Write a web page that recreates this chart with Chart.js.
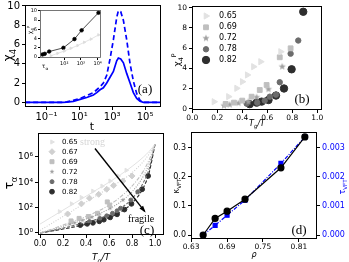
<!DOCTYPE html>
<html><head><meta charset="utf-8">
<script src="https://cdn.jsdelivr.net/npm/chart.js@4.4.1/dist/chart.umd.min.js"></script>
<style>
html,body{margin:0;padding:0;background:#fff;}
#wrap{position:relative;width:349px;height:262px;overflow:hidden;background:#fff;}
canvas{position:absolute;left:0;top:0;}
</style></head><body>
<div id="wrap">
<canvas id="ca" width="349" height="262"></canvas>
<canvas id="cin" width="349" height="262"></canvas>
<canvas id="cb" width="349" height="262"></canvas>
<canvas id="cc" width="349" height="262"></canvas>
<canvas id="cd" width="349" height="262"></canvas>
</div>
<script>
// ---------- DATA ----------
// (a) chi_4 vs t
const tA = [0.005, 1, 1.7, 4.3, 11, 28, 71, 114, 181, 289, 463, 736, 1180, 1875, 2370, 3300, 4800, 7600, 12200, 19400, 31000, 49000, 79000, 1000000];
const chiSolid  = [0, 0, 0.02, 0.1, 0.3, 0.5, 0.75, 1.0, 1.3, 1.5, 2.0, 2.6, 3.2, 4.3, 4.6, 4.5, 4.1, 3.0, 2.0, 1.0, 0.4, 0.1, 0, 0];
const chiDashed = [0, 0, 0.05, 0.2, 0.4, 0.7, 1.0, 1.3, 1.6, 2.0, 2.8, 4.5, 6.5, 8.8, 9.5, 9.4, 8.5, 6.5, 4.0, 2.2, 0.9, 0.2, 0, 0];
const aTickVals = [0.1, 10, 1000, 100000];
const aTickLabels = ['10⁻¹', '10¹', '10³', '10⁵'];
const aYTicks = [0, 2, 4, 6, 8, 10];
// (a) inset: chi_4^P vs tau_alpha
const tauInsetBlack = [5, 6.8, 12.6, 89, 410, 1100, 11200];
const chiInsetBlack = [0.56, 0.7, 1.2, 2.0, 3.9, 5.8, 9.6];
const tauInsetGrey = [16, 40, 100, 250, 630, 1580, 4000, 11200];
const chiInsetGrey = [0.3, 0.8, 1.3, 1.9, 2.5, 3.2, 3.9, 4.8];
const inTickVals = [100, 1000, 10000];
const inTickLabels = ['10²', '10³', '10⁴'];
const inYTicks = [0, 2, 4, 6, 8, 10];
// (b) chi_4^P vs Tg/T
const bX065 = [0.174, 0.29, 0.355, 0.40, 0.44, 0.49, 0.547, 0.707];
const bY065 = [0.69, 1.19, 2.02, 2.67, 3.34, 4.16, 4.65, 5.64];
const bX069 = [0.267, 0.334, 0.40, 0.475, 0.54, 0.595, 0.70, 0.787];
const bY069 = [0.47, 0.6, 0.8, 1.19, 1.85, 2.35, 5.09, 5.98];
const bX072 = [0.254, 0.30, 0.37, 0.45, 0.515, 0.61, 0.72];
const bY072 = [0.3, 0.4, 0.55, 0.69, 1.13, 1.92, 4.16];
const bX078 = [0.435, 0.52, 0.58, 0.62, 0.67, 0.70, 0.787, 0.848];
const bY078 = [0.5, 0.6, 0.8, 1.19, 1.39, 2.62, 5.45, 6.75];
const bX082 = [0.46, 0.515, 0.555, 0.61, 0.67, 0.734, 0.795, 0.888];
const bY082 = [0.45, 0.6, 0.7, 0.86, 1.3, 2.0, 3.9, 9.6];
const bXTicks = [0, 0.2, 0.4, 0.6, 0.8, 1.0];
const bXLabels = ['0.0', '0.2', '0.4', '0.6', '0.8', '1.0'];
const bYTicks = [0, 2, 4, 6, 8, 10];
const densities = ['0.65', '0.67', '0.69', '0.72', '0.78', '0.82'];
// (c) log10 tau_alpha vs Tg/T : fit curves and points
const cXFit = [0, 0.1, 0.2, 0.3, 0.4, 0.5, 0.6, 0.7, 0.8, 0.9, 0.95, 1.0];
const cFit065 = [0.7, 1.25, 1.8, 2.35, 2.9, 3.45, 4.0, 4.6, 5.25, 6.0, 6.45, 7.0];
const cFit067 = [0.2, 0.75, 1.3, 1.85, 2.45, 3.0, 3.55, 4.1, 4.75, 5.65, 6.25, 7.0];
const cFit069 = [0, 0.3, 0.62, 0.95, 1.3, 1.7, 2.2, 2.85, 3.7, 4.9, 5.8, 7.0];
const cFit072 = [0, 0.25, 0.52, 0.8, 1.1, 1.45, 1.9, 2.45, 3.25, 4.5, 5.5, 7.0];
const cFit078 = [0, 0.18, 0.38, 0.6, 0.83, 1.1, 1.45, 1.95, 2.7, 4.0, 5.1, 7.0];
const cFit082 = [0, 0.15, 0.31, 0.48, 0.68, 0.9, 1.2, 1.65, 2.35, 3.6, 4.8, 7.0];
const cX065 = [0.17, 0.275, 0.36, 0.46, 0.54, 0.61, 0.68, 0.75];
const cY065 = [1.68, 2.3, 2.8, 3.3, 3.7, 4.1, 4.5, 4.95];
const cX067 = [0.24, 0.36, 0.43, 0.51, 0.58, 0.64, 0.72, 0.8];
const cY067 = [1.5, 2.3, 2.75, 3.05, 3.45, 3.75, 4.1, 4.5];
const cX069 = [0.27, 0.34, 0.42, 0.5, 0.585, 0.606];
const cY069 = [0.95, 1.15, 1.3, 1.55, 2.45, 2.2];
const cX072 = [0.26, 0.3, 0.37, 0.45, 0.515, 0.61, 0.72];
const cY072 = [0.7, 0.8, 1.0, 1.25, 1.45, 1.95, 2.6];
const cX078 = [0.43, 0.52, 0.58, 0.63, 0.67, 0.70, 0.79, 0.85];
const cY078 = [0.9, 1.15, 1.35, 1.55, 1.75, 1.95, 2.6, 3.25];
const cX082 = [0.35, 0.41, 0.46, 0.515, 0.555, 0.61, 0.67, 0.734, 0.795, 0.888, 0.94];
const cY082 = [0.62, 0.72, 0.8, 0.92, 1.05, 1.23, 1.47, 1.85, 2.3, 3.45, 4.5];
const cYTicks = [1, 100, 10000, 1000000];
const cYLabels = ['10⁰', '10²', '10⁴', '10⁶'];
// (d) kappa_VFT and tau_VFT vs rho
const rho = [0.65, 0.67, 0.69, 0.72, 0.78, 0.82];
const kappaVFT = [0.0, 0.057, 0.082, 0.123, 0.231, 0.337];
const tauVFT = [0.0, 0.00033, 0.00068, 0.0012, 0.00246, 0.00337];
const dXTicks = [0.63, 0.69, 0.75, 0.81];
const dXLabels = ['0.63', '0.69', '0.75', '0.81'];
const dYTicks = [0, 0.1, 0.2, 0.3];
const dYLabels = ['0.0', '0.1', '0.2', '0.3'];
const dY2Ticks = [0, 0.001, 0.002, 0.003];
const dY2Labels = ['0.000', '0.001', '0.002', '0.003'];

// ---------- HELPERS ----------
const W = 349, H = 262;
const zip = (xs, ys, f = v => v) => xs.map((x, i) => ({x: x, y: f(ys[i])}));
const p10 = v => Math.pow(10, v);
const FONT = 'DejaVu Sans';
const SERIF = 'Liberation Serif';
const G = {c065:'#e2e2e2', c067:'#d0d0d0', c069:'#bfbfbf', c072:'#a0a0a0', c078:'#6c6c6c', c082:'#2e2e2e'};

function starCanvas(color, r) {
  const s = Math.ceil(r * 2 + 2), c = document.createElement('canvas');
  c.width = c.height = s; const x = c.getContext('2d'); x.fillStyle = color; x.beginPath();
  for (let i = 0; i < 10; i++) { const rr = i % 2 ? r * 0.42 : r; const a = -Math.PI / 2 + i * Math.PI / 5;
    x.lineTo(s / 2 + rr * Math.cos(a), s / 2 + rr * Math.sin(a)); }
  x.closePath(); x.fill(); return c;
}
function rich(ctx, segs, x, y, o) {
  o = Object.assign({size: 10, family: FONT, color: '#000', rot: 0, style: '', align: 'center'}, o || {});
  ctx.save(); ctx.translate(x, y); ctx.rotate(o.rot); ctx.fillStyle = o.color; ctx.textBaseline = 'alphabetic';
  const parts = segs.map(([t, k]) => { const fs = k ? o.size * 0.7 : o.size; const f = `${o.style} ${fs}px "${o.family}"`;
    ctx.font = f; return {t, k, f, w: ctx.measureText(t).width}; });
  const total = parts.reduce((a, p) => a + p.w, 0);
  let cx = o.align === 'left' ? 0 : -total / 2; const base = o.size * 0.36;
  for (const p of parts) { ctx.font = p.f; const dy = p.k === 'sub' ? o.size * 0.28 : p.k === 'sup' ? -o.size * 0.42 : 0;
    ctx.fillText(p.t, cx, base + dy); cx += p.w; }
  ctx.restore();
}
function frameP(color, lw) {
  return {id: 'frame', afterDraw(c) { const a = c.chartArea, ctx = c.ctx; ctx.save(); ctx.strokeStyle = color || '#000';
    ctx.lineWidth = lw || 1; ctx.strokeRect(Math.round(a.left) + 0.5, Math.round(a.top) + 0.5, Math.round(a.right - a.left) - 1, Math.round(a.bottom - a.top) - 1); ctx.restore(); }};
}
function notes(fn) { return {id: 'notes', afterDraw(c) { c.ctx.save(); fn(c.ctx, c); c.ctx.restore(); }}; }
function axis(type, pos, min, max, vals, labels, size, fs, color, extra) {
  const horiz = pos === 'bottom';
  return Object.assign({
    type: type, position: pos, min: min, max: max,
    afterBuildTicks(s) { s.ticks = vals.map(v => ({value: v})); },
    afterFit(s) { if (horiz) { s.height = size; s.paddingLeft = 0; s.paddingRight = 0; } else { s.width = size; s.paddingTop = 0; s.paddingBottom = 0; } },
    grid: {display: true, drawOnChartArea: false, drawTicks: true, tickLength: 3, color: '#000', lineWidth: 1},
    border: {display: false},
    ticks: {autoSkip: false, maxRotation: 0, minRotation: 0, padding: horiz ? 1 : 2, color: color || '#000',
      font: {family: FONT, size: fs}, callback: (v, i) => labels[i]}
  }, extra || {});
}
function pad(L, T, R, B, lw, bh, rw) { return {padding: {left: L - lw, top: T, right: W - R - (rw || 0), bottom: H - B - bh}}; }
const base = {responsive: false, animation: false, events: [], devicePixelRatio: 1,
  plugins: {legend: {display: false}, tooltip: {enabled: false}}};
function drawLegend(ctx, items, mx, tx, ys, fs) {
  items.forEach((it, i) => {
    ctx.fillStyle = it.color; ctx.strokeStyle = it.color;
    Chart.helpers.drawPoint(ctx, {pointStyle: it.style, radius: it.r, rotation: it.rot || 0, borderWidth: 0.5}, mx, ys[i]);
    ctx.fillStyle = '#000'; ctx.font = `${fs}px "${FONT}"`; ctx.textBaseline = 'middle'; ctx.textAlign = 'left';
    ctx.fillText(it.label, tx, ys[i]);
  });
}

// ---------- (a) ----------
new Chart(document.getElementById('ca'), {
  type: 'scatter',
  data: {datasets: [
    {data: zip(tA, chiSolid), showLine: true, borderColor: '#0000ff', borderWidth: 1.7, pointRadius: 0},
    {data: zip(tA, chiDashed), showLine: true, borderColor: '#0000ff', borderWidth: 1.7, borderDash: [5, 3], pointRadius: 0}
  ]},
  options: Object.assign({}, base, {
    layout: pad(25, 5, 161, 107, 20, 20),
    scales: {
      x: axis('logarithmic', 'bottom', p10(-2.31), p10(5.97), aTickVals, aTickLabels, 20, 10),
      y: axis('linear', 'left', -0.49, 10.1, aYTicks, aYTicks.map(String), 20, 10)
    }
  }),
  plugins: [frameP('#000'), notes((ctx) => {
    rich(ctx, [['χ', ''], ['4', 'sub']], 8, 55, {size: 12, rot: -Math.PI / 2});
    rich(ctx, [['t', '']], 92, 126, {size: 11});
    rich(ctx, [['(a)', '']], 145, 88, {size: 13, family: SERIF});
  })]
});
// inset
new Chart(document.getElementById('cin'), {
  type: 'scatter',
  data: {datasets: [
    {data: zip(tauInsetGrey, chiInsetGrey), showLine: true, borderColor: '#dcdcdc', borderWidth: 0.8, pointRadius: 1.5, pointStyle: 'triangle', pointRotation: 90, pointBackgroundColor: '#dcdcdc', pointBorderColor: '#dcdcdc'},
    {data: zip(tauInsetBlack, chiInsetBlack), showLine: true, borderColor: '#000', borderWidth: 0.7, pointRadius: 1.8, pointBackgroundColor: '#000', pointBorderColor: '#000'}
  ]},
  options: Object.assign({}, base, {
    layout: pad(40, 10, 101, 58, 10, 8),
    scales: {
      x: axis('logarithmic', 'bottom', p10(0.55), p10(4.2), inTickVals, inTickLabels, 8, 5, '#000', {}),
      y: axis('linear', 'left', -0.2, 10.2, inYTicks, inYTicks.map(String), 10, 5)
    }
  }),
  plugins: [{id: 'bg', beforeDraw(c) { const a = c.chartArea; c.ctx.save(); c.ctx.fillStyle = '#fff'; c.ctx.fillRect(a.left, a.top, a.right - a.left, a.bottom - a.top); c.ctx.restore(); }},
    frameP('#555', 0.8), notes((ctx) => {
    rich(ctx, [['χ', ''], ['4', 'sub'], ['P', 'sup']], 30, 30, {size: 6, rot: -Math.PI / 2});
    rich(ctx, [['τ', ''], ['α', 'sub']], 45, 66, {size: 6});
  })]
});
(function(){ const ch = Chart.getChart('cin'); ['x','y'].forEach(k => { ch.options.scales[k].grid.tickLength = 2; ch.options.scales[k].ticks.padding = 1; }); ch.update('none'); })();

// ---------- (b) ----------
const star072 = starCanvas(G.c072, 3.8);
new Chart(document.getElementById('cb'), {
  type: 'scatter',
  data: {datasets: [
    {data: zip(bX065, bY065), pointStyle: 'triangle', pointRotation: 90, pointRadius: 3.6, pointBackgroundColor: G.c065, pointBorderColor: G.c065},
    {data: zip(bX069, bY069), pointStyle: 'rect', pointRadius: 3.4, pointBackgroundColor: G.c069, pointBorderColor: G.c069},
    {data: zip(bX072, bY072), pointStyle: star072, pointRadius: 3.8},
    {data: zip(bX078, bY078), pointStyle: 'circle', pointRadius: 2.7, pointBackgroundColor: G.c078, pointBorderColor: G.c078},
    {data: zip(bX082, bY082), pointStyle: 'circle', pointRadius: 3.7, pointBackgroundColor: G.c082, pointBorderColor: G.c082}
  ]},
  options: Object.assign({}, base, {
    layout: pad(192, 6, 322, 110, 18, 15),
    scales: {
      x: axis('linear', 'bottom', -0.002, 1.038, bXTicks, bXLabels, 15, 7.5),
      y: axis('linear', 'left', -0.13, 10.17, bYTicks, bYTicks.map(String), 18, 7.5)
    }
  }),
  plugins: [frameP('#000'), notes((ctx) => {
    drawLegend(ctx, [
      {label: densities[0], style: 'triangle', rot: 90, r: 3.6, color: G.c065},
      {label: densities[2], style: 'rect', r: 3.4, color: G.c069},
      {label: densities[3], style: star072, r: 3.8, color: G.c072},
      {label: densities[4], style: 'circle', r: 2.7, color: G.c078},
      {label: densities[5], style: 'circle', r: 3.7, color: G.c082}
    ], 206, 219, [16, 27.3, 38.3, 49.3, 60], 8);
    rich(ctx, [['χ', ''], ['4', 'sub'], ['P', 'sup']], 177, 60, {size: 9, rot: -Math.PI / 2});
    rich(ctx, [['T', ''], ['g', 'sub'], ['/T', '']], 257, 123, {size: 8, style: 'italic'});
    rich(ctx, [['(b)', '']], 302, 98, {size: 13, family: SERIF});
  })]
});

// ---------- (c) ----------
const star072c = starCanvas(G.c072, 2.6);
const fitDs = (ys, color, dash, w) => ({data: zip(cXFit, ys, p10), showLine: true, pointRadius: 0, borderColor: color, borderWidth: w || 1, borderDash: dash, cubicInterpolationMode: 'monotone'});
new Chart(document.getElementById('cc'), {
  type: 'scatter',
  data: {datasets: [
    fitDs(cFit065, G.c065, [], 1),
    fitDs(cFit067, G.c067, [1, 1.6], 1.1),
    fitDs(cFit069, G.c069, [4, 1.5, 1, 1.5], 1.1),
    fitDs(cFit072, G.c072, [1, 1.4], 1.1),
    fitDs(cFit078, G.c078, [3, 1.6], 1.1),
    fitDs(cFit082, G.c082, [3.5, 1.8], 1.1),
    {data: zip(cX065, cY065, p10), pointStyle: 'triangle', pointRotation: 90, pointRadius: 2.4, pointBackgroundColor: G.c065, pointBorderColor: G.c065},
    {data: zip(cX067, cY067, p10), pointStyle: 'rectRot', pointRadius: 3, pointBackgroundColor: G.c067, pointBorderColor: G.c067},
    {data: zip(cX069, cY069, p10), pointStyle: 'rect', pointRadius: 2.8, pointBackgroundColor: G.c069, pointBorderColor: G.c069},
    {data: zip(cX072, cY072, p10), pointStyle: star072c, pointRadius: 2.6},
    {data: zip(cX078, cY078, p10), pointStyle: 'circle', pointRadius: 2, pointBackgroundColor: G.c078, pointBorderColor: G.c078},
    {data: zip(cX082, cY082, p10), pointStyle: 'circle', pointRadius: 2.4, pointBackgroundColor: G.c082, pointBorderColor: G.c082}
  ]},
  options: Object.assign({}, base, {
    layout: pad(38, 133, 164, 235, 22, 15),
    scales: {
      x: axis('linear', 'bottom', -0.0174, 1.078, bXTicks, bXLabels, 15, 8),
      y: axis('logarithmic', 'left', p10(-0.16), p10(7.89), cYTicks, cYLabels, 22, 9)
    }
  }),
  plugins: [frameP('#000'), notes((ctx, c) => {
    drawLegend(ctx, [
      {label: densities[0], style: 'triangle', rot: 90, r: 2.4, color: G.c065},
      {label: densities[1], style: 'rectRot', r: 3, color: G.c067},
      {label: densities[2], style: 'rect', r: 2.8, color: G.c069},
      {label: densities[3], style: star072c, r: 2.6, color: G.c072},
      {label: densities[4], style: 'circle', r: 2, color: G.c078},
      {label: densities[5], style: 'circle', r: 2.4, color: G.c082}
    ], 52, 62, [142, 151.7, 161.7, 171.7, 181.7, 191.7], 7);
    ctx.fillStyle = '#d6d6d6'; ctx.font = `10px "${SERIF}"`; ctx.textBaseline = 'middle'; ctx.textAlign = 'left';
    ctx.fillText('strong', 80, 142);
    ctx.fillStyle = '#000'; ctx.fillText('fragile', 128, 219);
    const sx = c.scales.x, sy = c.scales.y;
    const x0 = sx.getPixelForValue(0.478), y0 = sy.getPixelForValue(p10(6.67));
    const x1 = sx.getPixelForValue(0.91), y1 = sy.getPixelForValue(p10(1.7));
    ctx.strokeStyle = '#000'; ctx.lineWidth = 1.4; ctx.beginPath(); ctx.moveTo(x0, y0); ctx.lineTo(x1, y1); ctx.stroke();
    const ang = Math.atan2(y1 - y0, x1 - x0), hl = 6;
    ctx.fillStyle = '#000'; ctx.beginPath(); ctx.moveTo(x1 + 1.5 * Math.cos(ang), y1 + 1.5 * Math.sin(ang));
    ctx.lineTo(x1 - hl * Math.cos(ang - 0.4), y1 - hl * Math.sin(ang - 0.4));
    ctx.lineTo(x1 - hl * Math.cos(ang + 0.4), y1 - hl * Math.sin(ang + 0.4)); ctx.closePath(); ctx.fill();
    rich(ctx, [['τ', ''], ['α', 'sub']], 9, 183, {size: 12, rot: -Math.PI / 2});
    rich(ctx, [['T', ''], ['g', 'sub'], ['/T', '']], 101, 257, {size: 9, style: 'italic'});
    rich(ctx, [['(c)', '']], 147, 229, {size: 13, family: SERIF});
  })]
});

// ---------- (d) ----------
new Chart(document.getElementById('cd'), {
  type: 'scatter',
  data: {datasets: [
    {data: zip(rho, kappaVFT), yAxisID: 'y', showLine: true, borderColor: '#000', borderWidth: 1.2, pointRadius: 3, pointBackgroundColor: '#000', pointBorderColor: '#000'},
    {data: zip(rho, tauVFT), yAxisID: 'y2', showLine: true, borderColor: '#0000ff', borderWidth: 1.2, borderDash: [4, 1.5, 1, 1.5], pointStyle: 'rect', pointRadius: 2.8, pointBackgroundColor: '#0000ff', pointBorderColor: '#0000ff'}
  ]},
  options: Object.assign({}, base, {
    layout: pad(191, 132, 317, 239, 18, 12, 30),
    scales: {
      x: axis('linear', 'bottom', 0.6297, 0.8403, dXTicks, dXLabels, 12, 7.5),
      y: axis('linear', 'left', -0.0137, 0.354, dYTicks, dYLabels, 18, 8),
      y2: axis('linear', 'right', -0.000137, 0.00354, dY2Ticks, dY2Labels, 30, 8, '#0000ff')
    }
  }),
  plugins: [frameP('#000'), notes((ctx) => {
    rich(ctx, [['κ', ''], ['VFT', 'sub']], 176, 186, {size: 8, rot: -Math.PI / 2});
    rich(ctx, [['τ', ''], ['VFT', 'sub']], 342, 187, {size: 8, rot: -Math.PI / 2, color: '#0000ff'});
    rich(ctx, [['ρ', '']], 254, 254, {size: 8, style: 'italic'});
    rich(ctx, [['(d)', '']], 299, 229, {size: 13, family: SERIF});
  })]
});
</script>
</body></html>
